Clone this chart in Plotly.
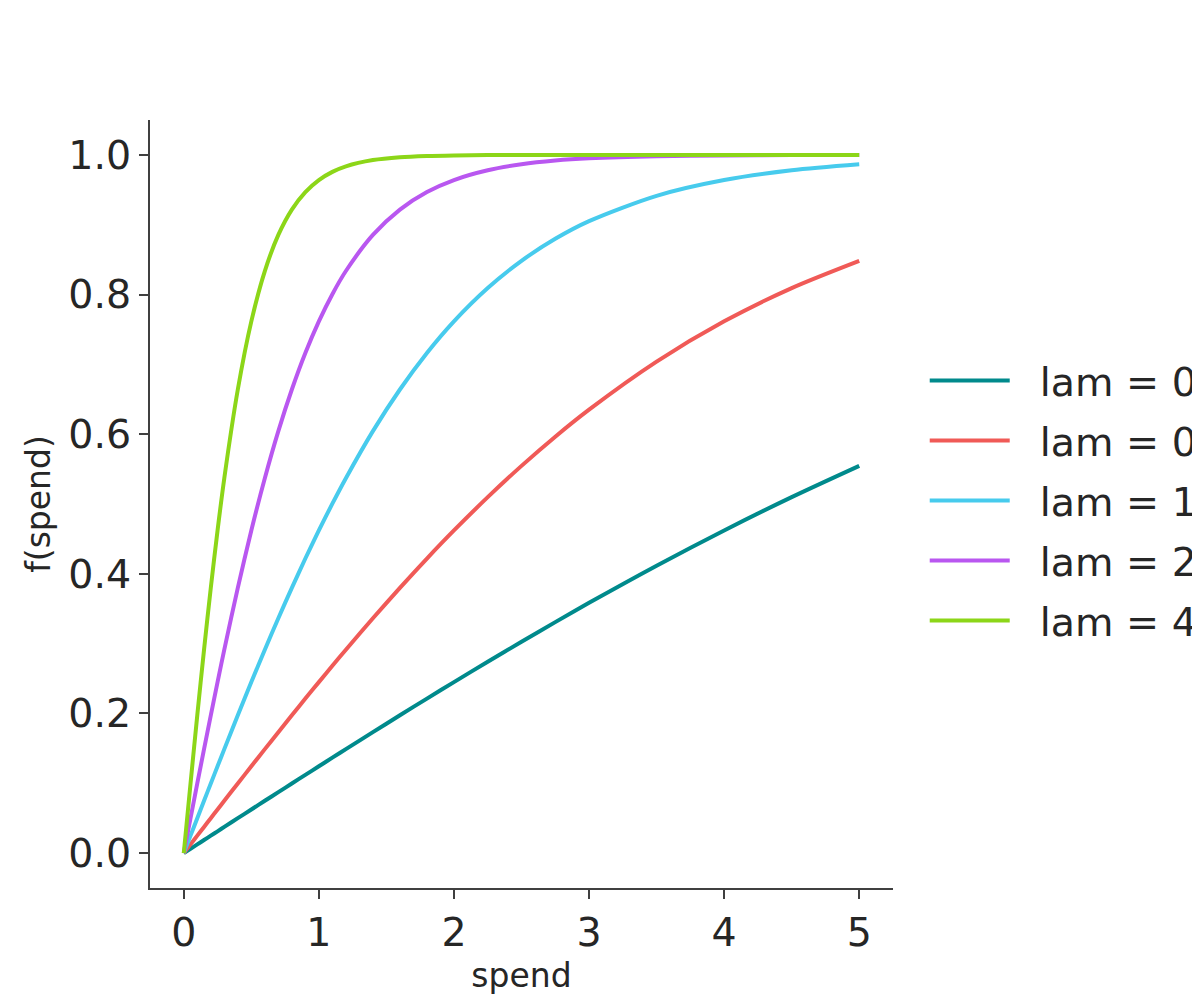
# Saturation curves f(spend) for several lam values
import plotly.graph_objects as go

# spend values (shared x)
spend = [0, 0.05, 0.1, 0.15, 0.2, 0.25, 0.3, 0.4, 0.5, 0.6, 0.7, 0.8, 0.9, 1.0, 1.1,
         1.2, 1.4, 1.6, 1.8, 2.0, 2.25, 2.5, 2.75, 3.0, 3.5, 4.0, 4.5, 5.0]

# f(spend) for each lam
lam_025 = [0, 0.0062, 0.0125, 0.0187, 0.0250, 0.0312, 0.0375, 0.0500, 0.0624, 0.0749, 0.0873, 0.0997,
           0.1120, 0.1244, 0.1367, 0.1489, 0.1732, 0.1974, 0.2213, 0.2449, 0.2741, 0.3027, 0.3308,
           0.3584, 0.4116, 0.4621, 0.5098, 0.5546]
lam_05 = [0, 0.0125, 0.0250, 0.0375, 0.0500, 0.0624, 0.0749, 0.0997, 0.1244, 0.1489, 0.1732, 0.1974,
          0.2213, 0.2449, 0.2683, 0.2913, 0.3364, 0.3799, 0.4219, 0.4621, 0.5098, 0.5546, 0.5964,
          0.6351, 0.7039, 0.7616, 0.8093, 0.8483]
lam_1 = [0, 0.0250, 0.0500, 0.0749, 0.0997, 0.1244, 0.1489, 0.1974, 0.2449, 0.2913, 0.3364, 0.3799,
         0.4219, 0.4621, 0.5005, 0.5370, 0.6044, 0.6640, 0.7163, 0.7616, 0.8093, 0.8483, 0.8798,
         0.9051, 0.9414, 0.9640, 0.9780, 0.9866]
lam_2 = [0, 0.0500, 0.0997, 0.1489, 0.1974, 0.2449, 0.2913, 0.3799, 0.4621, 0.5370, 0.6044, 0.6640,
         0.7163, 0.7616, 0.8005, 0.8337, 0.8854, 0.9217, 0.9468, 0.9640, 0.9780, 0.9866, 0.9919,
         0.9951, 0.9982, 0.9993, 0.9998, 0.9999]
lam_4 = [0, 0.0997, 0.1974, 0.2913, 0.3799, 0.4621, 0.5370, 0.6640, 0.7616, 0.8337, 0.8854, 0.9217,
         0.9468, 0.9640, 0.9757, 0.9837, 0.9926, 0.9967, 0.9985, 0.9993, 0.9998, 0.9999, 1.0,
         1.0, 1.0, 1.0, 1.0, 1.0]

series_names = ['lam = 0.25', 'lam = 0.5', 'lam = 1', 'lam = 2', 'lam = 4']
series_values = [lam_025, lam_05, lam_1, lam_2, lam_4]
colors = ['#008a8c', '#f05a57', '#47cbed', '#b957f0', '#8cd618']

FONT = 'DejaVu Sans'
TEXT = '#262626'
PAD = '\u00a0\u00a0'  # gap between legend line and label

data = []
for name, vals, col in zip(series_names, series_values, colors):
    data.append(go.Scatter(x=spend, y=vals, mode='lines', name=PAD + name, legendgroup=name,
                           line=dict(color=col, width=4, shape='spline', smoothing=0.8)))

axis_style = dict(showline=True, linecolor='#404040', linewidth=2,
                  ticks='outside', ticklen=9, tickwidth=2, tickcolor='#404040',
                  showgrid=False, zeroline=False,
                  tickfont=dict(family=FONT, size=39.5, color=TEXT))

layout = go.Layout(
    width=1200, height=1000,
    paper_bgcolor='white', plot_bgcolor='white',
    margin=dict(l=142, r=315, t=112, b=120, autoexpand=False),
    xaxis=dict(range=[-0.25, 5.25], tickvals=[0, 1, 2, 3, 4, 5],
               title=dict(text='spend', font=dict(family=FONT, size=33, color=TEXT), standoff=9),
               **axis_style),
    yaxis=dict(range=[-0.05, 1.05], tickvals=[0, 0.2, 0.4, 0.6, 0.8, 1.0], tickformat='.1f',
               title=dict(text='f(spend)', font=dict(family=FONT, size=33, color=TEXT), standoff=8),
               **axis_style),
    legend=dict(x=1.0427, xanchor='left', y=0.504, yanchor='middle',
                font=dict(family=FONT, size=39.5, color=TEXT),
                itemwidth=80, traceorder='grouped', tracegroupgap=5.6,
                bgcolor='rgba(0,0,0,0)'),
    showlegend=True,
)

fig = go.Figure(data=data, layout=layout)
fig.write_html("out.html")
